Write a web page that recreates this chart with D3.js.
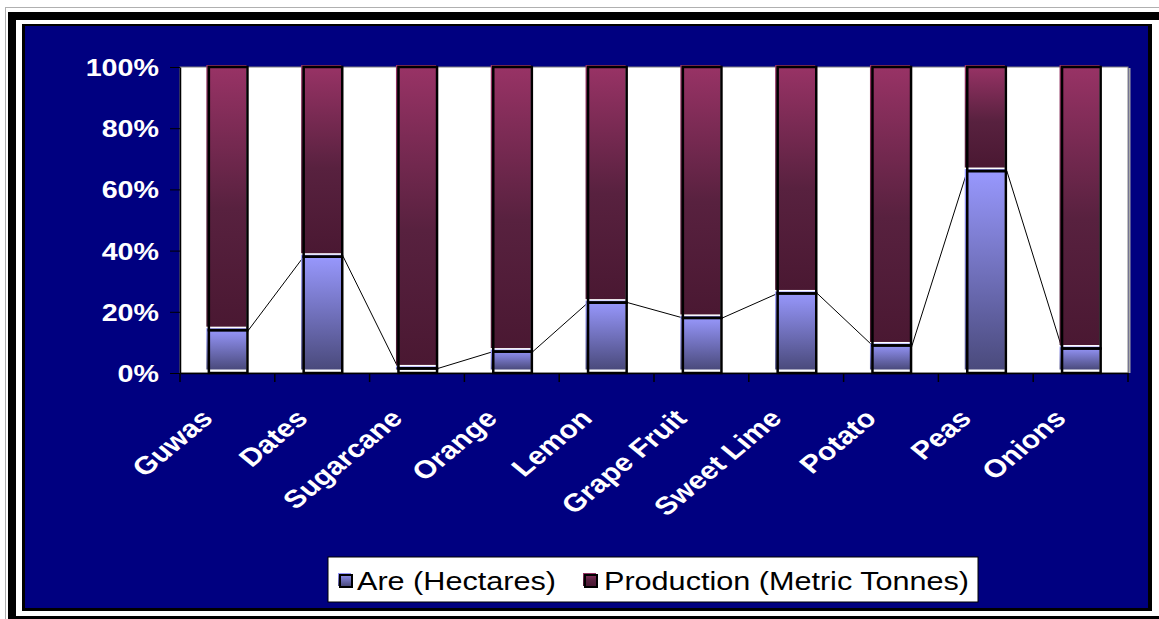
<!DOCTYPE html>
<html>
<head>
<meta charset="utf-8">
<script src="https://cdn.jsdelivr.net/npm/d3@7"></script>
<style>
  body { margin: 0; background: #fff; }
  text { font-family: "Liberation Sans", Arial, sans-serif; }
</style>
</head>
<body>
<div id="chart"></div>
<script>
// values (100% stacked columns)
var categories = ["Guwas", "Dates", "Sugarcane", "Orange", "Lemon", "Grape Fruit", "Sweet Lime", "Potato", "Peas", "Onions"];
var areaShare = [14, 38, 1.5, 7, 23, 18, 26, 9, 66, 8];
var productionShare = [86, 62, 98.5, 93, 77, 82, 74, 91, 34, 92];
var yTicks = [0, 20, 40, 60, 80, 100];
var seriesNames = ["Are (Hectares)", "Production (Metric Tonnes)"];

var width = 1159, height = 619;
var plot = {left: 180, right: 1128, top: 67, bottom: 373};
var stretch = 1.22; // text in the picture is wider than it is tall

var svg = d3.select('#chart').append('svg')
  .attr('width', width)
  .attr('height', height);

var defs = svg.append('defs');
function gradient(id, stops) {
  var g = defs.append('linearGradient').attr('id', id)
    .attr('x1', 0).attr('y1', 0).attr('x2', 0).attr('y2', 1);
  stops.forEach(function (s) {
    g.append('stop').attr('offset', s[0]).attr('stop-color', s[1]);
  });
}
gradient('gArea', [[0, '#9999ff'], [1, '#4a4a7c']]);
gradient('gProd', [[0, '#993366'], [0.55, '#58213f'], [1, '#4a1832']]);
var fills = ['url(#gArea)', 'url(#gProd)'];

// frame
svg.append('rect').attr('x', 5.5).attr('y', 7.5).attr('width', 1200).attr('height', 700)
  .attr('fill', 'none').attr('stroke', '#b0b0b0');
svg.append('rect').attr('x', 8).attr('y', 12).attr('width', 1200).attr('height', 700).attr('fill', '#000');
svg.append('rect').attr('x', 16).attr('y', 20).attr('width', 1200).attr('height', 596).attr('fill', '#fff');
svg.append('rect').attr('x', 22).attr('y', 24).attr('width', 1130).attr('height', 587).attr('fill', '#000');
svg.append('rect').attr('x', 25).attr('y', 26).attr('width', 1123).attr('height', 582).attr('fill', '#000080');

// plot area
svg.append('rect')
  .attr('x', plot.left).attr('y', plot.top)
  .attr('width', plot.right - plot.left).attr('height', plot.bottom - plot.top)
  .attr('fill', '#fff').attr('stroke', '#808080').attr('stroke-width', 1);
svg.append('line')
  .attr('x1', plot.right + 1.5).attr('x2', plot.right + 1.5)
  .attr('y1', plot.top + 1).attr('y2', plot.bottom)
  .attr('stroke', '#a8a8a8').attr('stroke-width', 2);

var x = d3.scaleBand()
  .domain(categories)
  .range([plot.left, plot.right])
  .paddingInner(0.556)
  .paddingOuter(0.278);
var y = d3.scaleLinear()
  .domain([0, 100])
  .range([plot.bottom, plot.top]);

var bw = x.bandwidth();
var step = x.step();

var rows = categories.map(function (c, i) {
  return {name: c, area: areaShare[i], production: productionShare[i]};
});
var stack = d3.stack().keys(['area', 'production']);
var layers = stack(rows);

// series lines joining the tops of the area segments
var g = svg.append('g');
for (var i = 0; i < categories.length - 1; i++) {
  g.append('line')
    .attr('x1', x(categories[i]) + bw).attr('y1', y(areaShare[i]))
    .attr('x2', x(categories[i + 1]) + 2.5).attr('y2', y(areaShare[i + 1]))
    .attr('stroke', '#000').attr('stroke-width', 1);
}

// column fills
layers.forEach(function (layer, li) {
  g.selectAll('.fill' + li)
    .data(layer)
    .enter()
    .append('rect')
    .attr('class', 'fill' + li)
    .attr('x', function (d) { return x(d.data.name); })
    .attr('y', function (d) { return y(d[1]) - 2; })
    .attr('width', bw - 2)
    .attr('height', function (d) { return Math.max(0, y(d[0]) - y(d[1]) - 1.5); })
    .attr('fill', fills[li]);
});

// column outlines, shifted like a drop shadow
layers.forEach(function (layer, li) {
  g.selectAll('.edge' + li)
    .data(layer)
    .enter()
    .append('rect')
    .attr('class', 'edge' + li)
    .attr('x', function (d) { return x(d.data.name) + 2.5; })
    .attr('y', function (d) { return y(d[1]); })
    .attr('width', bw - 3.5)
    .attr('height', function (d) { return y(d[0]) - y(d[1]); })
    .attr('fill', 'none')
    .attr('stroke', '#000')
    .attr('stroke-width', 2.5);
});

// y axis
var yAxis = d3.axisLeft(y)
  .tickValues(yTicks)
  .tickSize(10)
  .tickSizeOuter(0)
  .tickFormat(function (d) { return d + '%'; });
var yg = svg.append('g')
  .attr('transform', 'translate(' + plot.left + ',0)')
  .call(yAxis);
yg.select('.domain').attr('stroke', '#000').attr('stroke-width', 1.5);
yg.selectAll('line').attr('stroke', '#000');
yg.selectAll('text')
  .attr('x', null).attr('dy', null)
  .attr('transform', 'translate(-21,8.5) scale(' + stretch + ',1)')
  .attr('fill', '#fff')
  .attr('font-size', 23.5)
  .attr('font-weight', 'bold')
  .attr('text-anchor', 'end');

// x axis
var xAxis = d3.axisBottom(x).tickSize(0).tickSizeOuter(0).tickFormat('');
var xg = svg.append('g')
  .attr('transform', 'translate(0,' + plot.bottom + ')')
  .call(xAxis);
xg.select('.domain').attr('stroke', '#000').attr('stroke-width', 1.5);
d3.range(categories.length + 1).forEach(function (k) {
  var bx = plot.left + k * step;
  xg.append('line')
    .attr('x1', bx).attr('x2', bx)
    .attr('y1', 0).attr('y2', 9)
    .attr('stroke', '#000').attr('stroke-width', 1.5);
});
svg.append('g').selectAll('text')
  .data(categories)
  .enter()
  .append('text')
  .attr('transform', function (d) {
    var cx = x(d) + bw / 2 - 13;
    return 'translate(' + cx + ',' + (plot.bottom + 47) + ') scale(1.2,1) rotate(-45)';
  })
  .attr('text-anchor', 'end')
  .attr('fill', '#fff')
  .attr('font-size', 25)
  .attr('font-weight', 'bold')
  .text(function (d) { return d; });

// legend
var lg = svg.append('g');
lg.append('rect')
  .attr('x', 328).attr('y', 557).attr('width', 650).attr('height', 45)
  .attr('fill', '#fff').attr('stroke', '#000').attr('stroke-width', 1);
var legendX = [338, 583];
var legendTextX = [357, 604];
seriesNames.forEach(function (name, k) {
  lg.append('rect')
    .attr('x', legendX[k]).attr('y', 573).attr('width', 13).attr('height', 13)
    .attr('fill', fills[k]);
  lg.append('rect')
    .attr('x', legendX[k] + 2).attr('y', 575).attr('width', 12).attr('height', 12)
    .attr('fill', 'none').attr('stroke', '#000').attr('stroke-width', 2);
  lg.append('text')
    .attr('transform', 'translate(' + legendTextX[k] + ',590) scale(1.2,1)')
    .attr('font-size', 25.5)
    .attr('fill', '#000')
    .text(name);
});
</script>
</body>
</html>
